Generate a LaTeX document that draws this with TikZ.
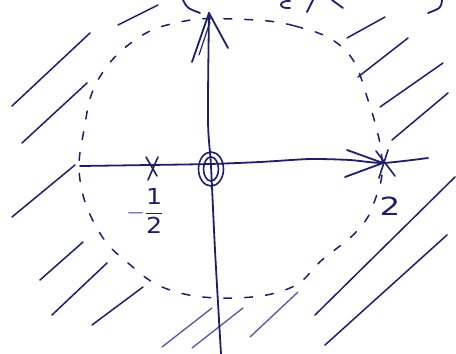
\documentclass[tikz,border=0pt]{standalone}
\usepackage{amsmath}
\usepackage{fontspec}
\newfontfamily\handfont{DejaVu Sans}
\definecolor{ink}{RGB}{30,30,105}
\definecolor{inklight}{RGB}{85,85,160}
\begin{document}
\begin{tikzpicture}[x=1pt,y=-1pt,
  pen/.style={draw=ink, line width=1.8pt, line cap=round, line join=round},
  hatch/.style={draw=ink, line width=1.5pt, line cap=round},
  hatchlight/.style={draw=inklight, line width=1.3pt, line cap=round},
  circ/.style={draw=ink, line width=1.5pt, dash pattern=on 8pt off 13pt, line cap=round},
  lbl/.style={text=ink, inner sep=0pt, font=\handfont\fontsize{25}{25}\selectfont},
  fraclbl/.style={text=ink, inner sep=0pt, font=\handfont\fontsize{22}{22}\selectfont}]
\useasboundingbox (0,0) rectangle (456,354);

% dashed circle |z| = 2
\draw[circ] plot[smooth cycle, tension=0.7] coordinates {
  (232,19) (295,26) (345,50) (368,100) (382,160) (375,200) (358,230)
  (322,260) (290,288) (232,298) (170,290) (128,263) (98,230) (80,180)
  (84,130) (98,80) (135,40) (180,22)};

% hatching outside the circle
\draw[hatch] (12,106) -- (90,33);
\draw[hatch] (118,25) -- (158,5);
\draw[hatch] (22,143) -- (87,83);
\draw[hatch] (12,217) -- (75,165);
\draw[hatch] (40,280) -- (83,242);
\draw[hatch] (52,315) -- (107,263);
\draw[hatch] (92,325) -- (143,287);
\draw[hatchlight] (162,347) -- (212,308);
\draw[hatchlight] (192,348) -- (243,308);
\draw[hatchlight] (250,337) -- (298,292);
\draw[hatch] (315,315) -- (455,177);
\draw[hatch] (325,345) -- (447,235);
\draw[hatch] (347,38) -- (385,17);
\draw[hatch] (358,77) -- (408,38);
\draw[hatch] (380,107) -- (443,63);
\draw[hatch] (392,140) -- (448,93);

% axes
\coordinate (xl) at (80,166);
\coordinate (xr) at (428,158);
\coordinate (yt) at (209,13);
\coordinate (yb) at (221,354);
\coordinate (O) at (211,166);
\coordinate (xa) at (383,163);
\draw[pen] plot[smooth, tension=0.4] coordinates {(xl) (150,165) (210,164) (260,162) (310,159) (350,160) (xa) (xr)};
\draw[pen] plot[smooth, tension=0.5] coordinates {(yt) (208,120) (O) (215,250) (yb)};
% arrowheads (hand drawn)
\draw[pen] (192,62) -- (yt) -- (228,48);
\draw[pen, line width=1.2pt] (199,55) -- (210,22);
\draw[pen] (347,150) -- (xa) -- (345,177);

% double circle at the origin (double zero)
\draw[pen, line width=1.6pt] (O) ++(0,3) ellipse [x radius=12.5, y radius=17];
\draw[pen, line width=1.6pt] (O) ++(0,3) ellipse [x radius=7.5, y radius=12];

% poles
\coordinate (p1) at (152,167);
\draw[pen, line width=1.6pt] (146,157) -- (157,176) (158,157) -- (148,180);
\coordinate (p2) at (385,164);
\draw[pen, line width=1.6pt] (376,151) -- (395,176) (388,150) -- (379,178);

% labels
\node[fraclbl, xscale=1.15] (lhalf) at (145,211) {$-\dfrac{\text{1}}{\text{2}}$};
\node[lbl, xscale=1.3] (ltwo) at (390,206) {2};

% fragments of the clipped text at the top edge
\draw[pen] (183,0) .. controls (187,8) .. (200,13);
\draw[pen] (290,1) .. controls (279,0) and (277,9) .. (290,8);
\draw[pen] (313,0) -- (307,12);
\draw[pen] (332,0) -- (343,8);
\draw[pen] (442,0) .. controls (441,8) .. (428,13);
\end{tikzpicture}
\end{document}
